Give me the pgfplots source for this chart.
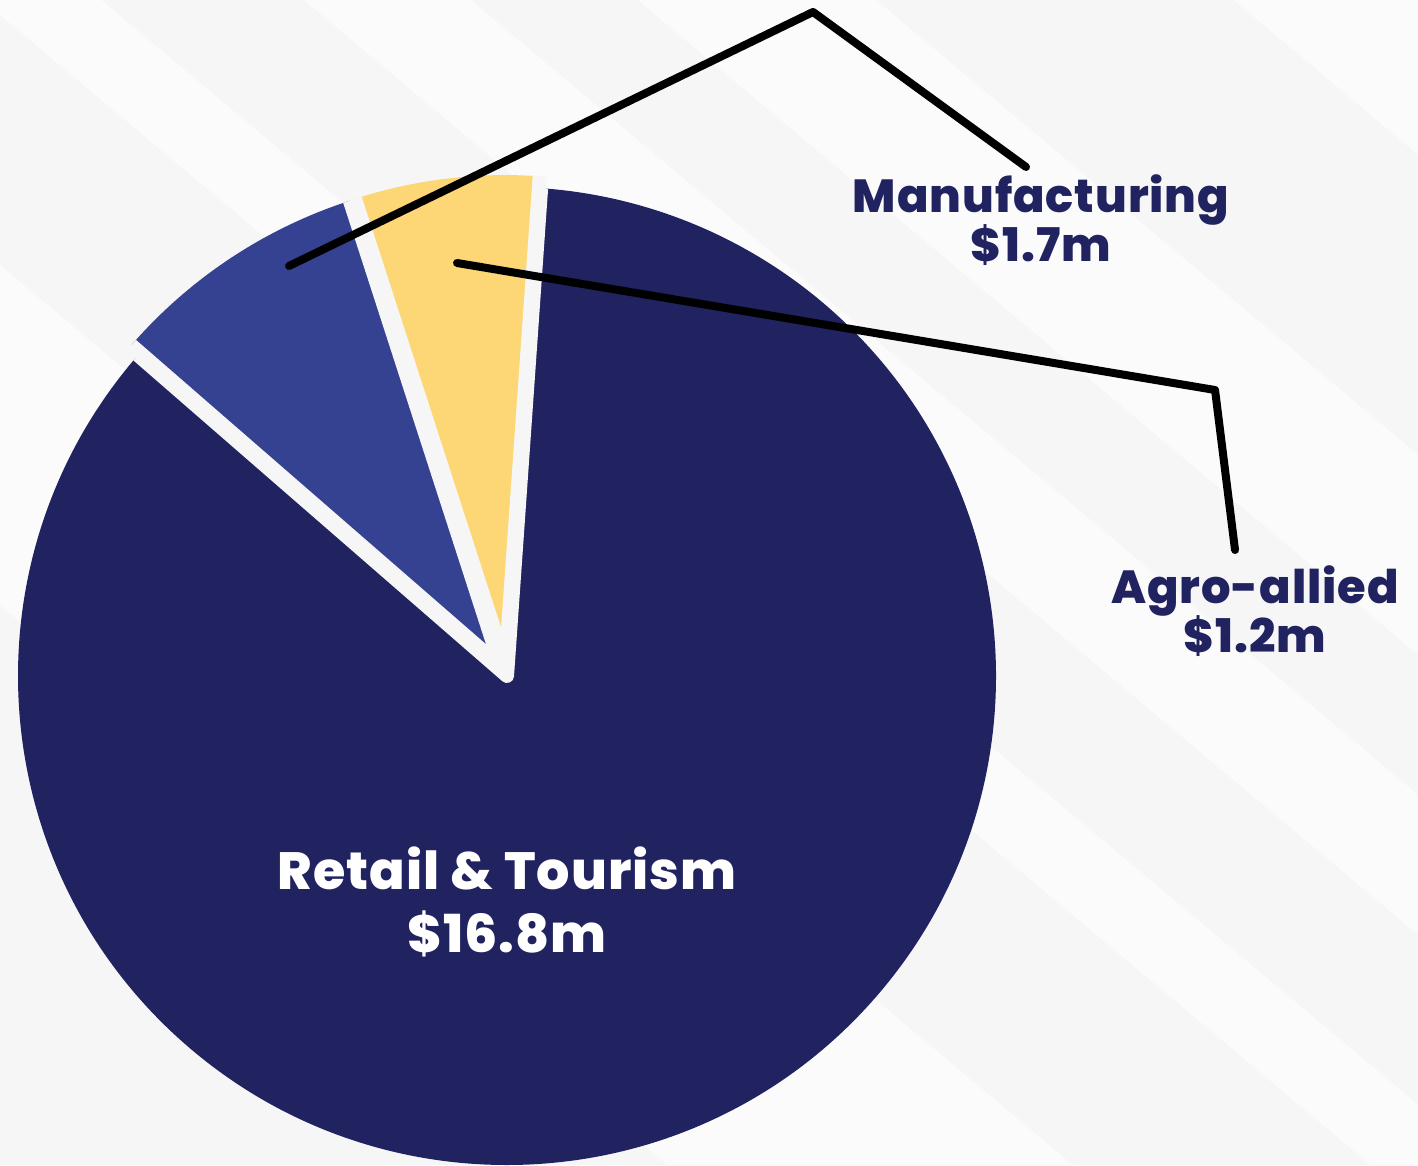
\documentclass[border=0pt]{standalone}
\usepackage{pgfplots}
\pgfplotsset{compat=1.18}
\usepackage{pgfplotstable}
\usepackage{fontspec}
\setmainfont{Poppins}
\newfontfamily\heavy{Poppins ExtraBold}[LetterSpace=2]

\definecolor{navy}{HTML}{212260}
\definecolor{midblue}{HTML}{354191}
\definecolor{sand}{HTML}{FDD775}
\definecolor{bg}{HTML}{F6F6F6}
\definecolor{stripe}{HTML}{FBFBFB}

\pgfplotstableread{
sector value
Agro 1.2
Manufacturing 1.7
Retail 16.8
}\sectors
\pgfplotstablegetelem{0}{value}\of\sectors\let\vAgro\pgfplotsretval
\pgfplotstablegetelem{1}{value}\of\sectors\let\vMan\pgfplotsretval
\pgfplotstablegetelem{2}{value}\of\sectors\let\vRet\pgfplotsretval
\pgfmathsetmacro\tot{\vAgro+\vMan+\vRet}
\pgfmathsetmacro\aO{86}
\pgfmathsetmacro\aA{\aO+360*\vAgro/\tot}
\pgfmathsetmacro\aB{\aA+360*\vMan/\tot}
\pgfmathsetmacro\aC{\aO+360}
\pgfmathsetmacro\mA{(\aO+\aA)/2}
\pgfmathsetmacro\mB{(\aA+\aB)/2}

% slice: fill colour, explode angle, explode distance, start angle, end angle
\newcommand\slice[5]{%
  \fill[#1] ([shift={(#2:#3)}]axis cs:507,489) -- ++(#4:48.9mm)
    arc[start angle=#4, end angle=#5, radius=48.9mm] -- cycle;}
% gap along the two straight edges of a slice
\newcommand\gap[4]{%
  \draw[bg, line width=1.4mm, line join=round]
    ([shift={(#1:#2)}]axis cs:507,489) ++(#3:48.9mm)
    -- ([shift={(#1:#2)}]axis cs:507,489) -- ++(#4:48.9mm);}
% light diagonal band between Y+0.839x=c1 and c2
\newcommand\band[2]{%
  \fill[stripe] (axis cs:-500,{#1+419.5}) -- (axis cs:2000,{#1-1678})
    -- (axis cs:2000,{#2-1678}) -- (axis cs:-500,{#2+419.5}) -- cycle;}

\begin{document}
\begin{tikzpicture}
\begin{axis}[
    at={(0,0)}, anchor=origin,
    x=0.1mm, y=0.1mm,
    xmin=0, xmax=1418, ymin=0, ymax=1165,
    xtick=\empty, ytick=\empty,
    hide axis,
  ]
  \fill[bg] (axis cs:0,0) rectangle (axis cs:1418,1165);
  \band{560}{900}
  \band{1150}{1250}
  \band{1420}{1560}
  \band{1700}{1900}
  \band{2200}{2450}

  \slice{navy}{0}{0mm}{\aB}{\aC}
  \slice{midblue}{\mB}{1.2mm}{\aA}{\aB}
  \slice{sand}{\mA}{1.2mm}{\aO}{\aA}
  \gap{0}{0mm}{\aB}{\aC}
  \gap{\mB}{1.2mm}{\aA}{\aB}
  \gap{\mA}{1.2mm}{\aO}{\aA}

  \draw[black, line width=0.8mm, line cap=round, line join=round]
    (axis cs:289,899) -- (axis cs:813,1153) -- (axis cs:1026,998);
  \draw[black, line width=0.8mm, line cap=round, line join=round]
    (axis cs:457,902) -- (axis cs:1215,775) -- (axis cs:1235,615);

  \node[anchor=base, text=white, font=\fontsize{14.9}{18}\selectfont\heavy]
    at (axis cs:507,276) {Retail \& Tourism};
  \node[anchor=base, text=white, font=\fontsize{14.9}{18}\selectfont\heavy]
    at (axis cs:507,213) {\$16.8m};
  \node[anchor=base, text=navy, font=\fontsize{13.2}{15}\selectfont\heavy]
    at (axis cs:1041,952) {Manufacturing};
  \node[anchor=base, text=navy, font=\fontsize{13.2}{15}\selectfont\heavy]
    at (axis cs:1041,903) {\$1.7m};
  \node[anchor=base, text=navy, font=\fontsize{13.2}{15}\selectfont\heavy]
    at (axis cs:1255,562) {Agro-allied};
  \node[anchor=base, text=navy, font=\fontsize{13.2}{15}\selectfont\heavy]
    at (axis cs:1255,513) {\$1.2m};
\end{axis}
\pgfresetboundingbox
\useasboundingbox (0,0) rectangle (141.8mm,116.5mm);
\end{tikzpicture}
\end{document}
